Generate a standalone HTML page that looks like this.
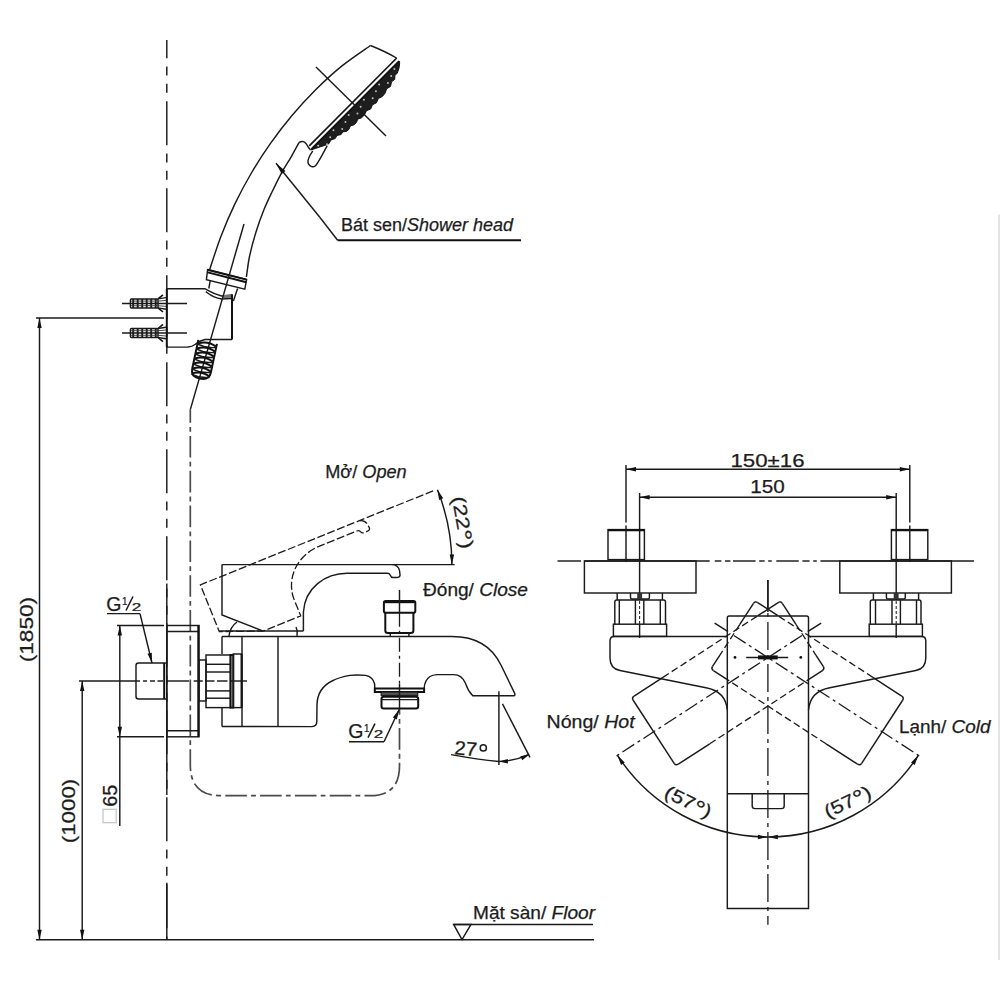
<!DOCTYPE html>
<html><head><meta charset="utf-8"><style>
html,body{margin:0;padding:0;background:#fff;overflow:hidden;width:1000px;height:1000px;}
svg{display:block;}
.l{stroke:#1a1a1a;stroke-width:1.45;fill:none;}
.l2{stroke:#111;stroke-width:2;fill:none;}
.g3{stroke:#777;stroke-width:3;fill:none;}
.t2{stroke:#1a1a1a;stroke-width:1.6;fill:none;}
.faint{stroke:#d0d0d0;stroke-width:1.2;fill:none;}
.ph{stroke:#1a1a1a;stroke-width:1.45;fill:none;stroke-dasharray:44 8.2 9 8.4 9 8.4;}
.cl{stroke:#1a1a1a;stroke-width:1.3;fill:none;stroke-dasharray:14 4 3 4;}
.cl2{stroke:#1a1a1a;stroke-width:1.3;fill:none;stroke-dasharray:28 5 4 5;}
.hose{stroke:#4a4a4a;stroke-width:1.7;fill:none;stroke-dasharray:21.6 4.2 4.8 4.2;}
.hd{stroke:#1a1a1a;stroke-width:1.3;fill:none;stroke-dasharray:7 3.5;}
.hd2{stroke:#1a1a1a;stroke-width:1.3;fill:none;stroke-dasharray:8 2.6;}
.hd3{stroke:#1a1a1a;stroke-width:1;fill:none;stroke-dasharray:3 2;}
.nz{fill:#1e1e1e;stroke:#111;stroke-width:1;}
.wst{stroke:#fafafa;stroke-width:2;fill:none;}
.rib{stroke:#1a1a1a;stroke-width:1.9;fill:none;}
.thin{stroke:#333;stroke-width:0.9;fill:none;}
.l16{stroke:#111;stroke-width:1.6;fill:none;}
.fillg{fill:#555;stroke:#111;stroke-width:1;}
.pin{stroke:#111;stroke-width:4;fill:none;}
.dot{fill:#111;}
.ah{fill:#111;stroke:none;}
.t{font-family:"Liberation Sans",sans-serif;fill:#1c1c1c;stroke:#1c1c1c;stroke-width:0.25;}
</style></head><body>
<svg width="1000" height="1000" viewBox="0 0 1000 1000">
<path d="M166.8,40 V939.7" class="ph" stroke-dashoffset="25.8"/>
<line x1="166.8" y1="288.8" x2="166.8" y2="347.1" class="l2" />
<line x1="166.8" y1="583.6" x2="166.8" y2="795" class="l" />
<line x1="166.8" y1="882.8" x2="166.8" y2="939.7" class="l" />
<line x1="36" y1="939.7" x2="594" y2="939.7" class="l" />
<line x1="36" y1="318" x2="164" y2="318" class="l" />
<line x1="39.5" y1="318" x2="39.5" y2="939.7" class="l" />
<polygon points="39.5,318 41.7,328 37.3,328" class="ah"/>
<polygon points="39.5,939.7 37.3,929.7 41.7,929.7" class="ah"/>
<line x1="79" y1="681" x2="136" y2="681" class="l" />
<line x1="82.2" y1="681" x2="82.2" y2="939.7" class="l" />
<polygon points="82.2,681 84.4,691 80,691" class="ah"/>
<polygon points="82.2,939.7 80,929.7 84.4,929.7" class="ah"/>
<line x1="117" y1="625.5" x2="164" y2="625.5" class="l" />
<line x1="117" y1="736.8" x2="164" y2="736.8" class="l" />
<line x1="119.8" y1="625.5" x2="119.8" y2="826" class="l" />
<polygon points="119.8,625.5 122,635.5 117.6,635.5" class="ah"/>
<polygon points="119.8,736.8 117.6,726.8 122,726.8" class="ah"/>
<line x1="122" y1="303.4" x2="187" y2="303.4" class="l" />
<rect x="130.4" y="298.9" width="27.6" height="9" rx="1" class="l"/>
<line x1="133.2" y1="298.9" x2="133.2" y2="307.9" class="rib" />
<line x1="137.7" y1="298.9" x2="137.7" y2="307.9" class="rib" />
<line x1="142.2" y1="298.9" x2="142.2" y2="307.9" class="rib" />
<line x1="146.7" y1="298.9" x2="146.7" y2="307.9" class="rib" />
<line x1="151.2" y1="298.9" x2="151.2" y2="307.9" class="rib" />
<line x1="155.7" y1="298.9" x2="155.7" y2="307.9" class="rib" />
<line x1="130.4" y1="301.1" x2="158" y2="301.1" class="thin" />
<line x1="130.4" y1="305.7" x2="158" y2="305.7" class="thin" />
<polyline points="158,298.9 163,294.8" class="l16"/>
<polyline points="158,307.9 163,312" class="l16"/>
<polyline points="158,298.9 166,297.6" class="l"/>
<polyline points="158,307.9 166,309.2" class="l"/>
<polyline points="158,301.1 166,300.4" class="thin"/>
<polyline points="158,305.7 166,306.4" class="thin"/>
<line x1="122" y1="333" x2="187" y2="333" class="l" />
<rect x="130.4" y="328.5" width="27.6" height="9" rx="1" class="l"/>
<line x1="133.2" y1="328.5" x2="133.2" y2="337.5" class="rib" />
<line x1="137.7" y1="328.5" x2="137.7" y2="337.5" class="rib" />
<line x1="142.2" y1="328.5" x2="142.2" y2="337.5" class="rib" />
<line x1="146.7" y1="328.5" x2="146.7" y2="337.5" class="rib" />
<line x1="151.2" y1="328.5" x2="151.2" y2="337.5" class="rib" />
<line x1="155.7" y1="328.5" x2="155.7" y2="337.5" class="rib" />
<line x1="130.4" y1="330.7" x2="158" y2="330.7" class="thin" />
<line x1="130.4" y1="335.3" x2="158" y2="335.3" class="thin" />
<polyline points="158,328.5 163,324.4" class="l16"/>
<polyline points="158,337.5 163,341.6" class="l16"/>
<polyline points="158,328.5 166,327.2" class="l"/>
<polyline points="158,337.5 166,338.8" class="l"/>
<polyline points="158,330.7 166,330" class="thin"/>
<polyline points="158,335.3 166,336" class="thin"/>
<path d="M166.8,288.8 L205.1,288.8 C208,290 212,293.5 221.6,296 L232,295" class="l" />
<path d="M205.8,291.6 C209,294 213,297.8 221.6,299 L231.5,298.5" class="l" />
<line x1="222.6" y1="296.5" x2="231.6" y2="296.5" class="g3" />
<line x1="232" y1="294.3" x2="232" y2="339.4" class="l2" />
<path d="M232,339.4 L205,339.5 C201,340.3 198,342 195,344.5 C193.5,345.8 191.5,346.8 188,347 L166.8,347.1" class="l" />
<polyline points="210.3,280.2 208.8,288.5" class="l"/>
<polyline points="237.6,288.5 233.4,301" class="l"/>
<path d="M207.6,269.7 L246.6,279.6 L244.8,289.2 L206.4,279.6 Z" class="l" />
<line x1="207.6" y1="269.7" x2="246.6" y2="279.6" class="l2" />
<line x1="207.8" y1="272.4" x2="246.3" y2="282.2" class="l2" />
<line x1="244" y1="224" x2="190.3" y2="409.6" class="l" />
<g transform="rotate(12 204 359)">
<path d="M194.5,341.5 L194.5,371 Q194.5,379 203.5,379 Q213.5,379 213.5,371 L213.5,341.5" class="l2"/>
<path d="M194.8,345.2 Q204,340.2 213.2,344.4" class="l2" />
<path d="M194.8,345.8 Q204,348.2 213.2,345.2" class="l" />
<path d="M194.8,350.3 Q204,345.3 213.2,349.5" class="l2" />
<path d="M194.8,350.9 Q204,353.3 213.2,350.3" class="l" />
<path d="M194.8,355.4 Q204,350.4 213.2,354.6" class="l2" />
<path d="M194.8,356 Q204,358.4 213.2,355.4" class="l" />
<path d="M194.8,360.5 Q204,355.5 213.2,359.7" class="l2" />
<path d="M194.8,361.1 Q204,363.5 213.2,360.5" class="l" />
<path d="M194.8,365.6 Q204,360.6 213.2,364.8" class="l2" />
<path d="M194.8,366.2 Q204,368.6 213.2,365.6" class="l" />
<path d="M194.8,370.7 Q204,365.7 213.2,369.9" class="l2" />
<path d="M194.8,371.3 Q204,373.7 213.2,370.7" class="l" />
<path d="M194.8,375.8 Q204,370.8 213.2,375" class="l2" />
<path d="M194.8,376.4 Q204,378.8 213.2,375.8" class="l" />
</g>
<path d="M370.5,45.5 C365.75,48.9 351.1,58.57 342,65.9 C332.9,73.23 324.23,81.23 315.9,89.5 C307.57,97.77 299.57,106.52 292,115.5 C284.43,124.48 277.27,133.82 270.5,143.4 C263.73,152.98 257.33,162.92 251.4,173 C245.47,183.08 239.97,193.37 234.9,203.9 C229.83,214.43 225.22,225.22 221,236.2 C216.78,247.18 211.5,264.2 209.6,269.8" class="l" />
<path d="M299,142.6 C297.7,144.97 294.1,151.77 291.2,156.8 C288.3,161.83 284.8,166.93 281.6,172.8 C278.4,178.67 274.93,185.87 272,192 C269.07,198.13 266.67,202.93 264,209.6 C261.33,216.27 258.4,224.27 256,232 C253.6,239.73 251.2,248.5 249.6,256 C248,263.5 246.93,273.5 246.4,277" class="l" />
<path d="M299,142.6 C300.5,141.5 302,141.2 303.5,141.6 C306,142.5 307,144.5 308.5,147.5 L310.4,149.8" class="l" />
<path d="M370.5,45.5 C378,48.5 388,53 396.5,58" class="l" />
<polygon points="398.98,60.97 399.62,61.6 399.55,63.94 399,68.04 397.24,73.35 394.88,75.23 394.78,79.36 391.53,81.78 390.55,86.44 386.67,88.69 385.05,93.2 382.3,96.57 378.26,98.55 376.48,102.78 372.44,104.75 370.66,108.98 366.4,110.85 364.41,114.98 361.28,117.98 357.72,119.14 356.44,122.56 354.01,124.85 350.36,125.92 348.98,129.25 346.46,131.45 342.65,131.88 341.1,134.57 337,135.43 335.16,138.54 330.93,139.97 328.95,143.65 325.99,144.93 320.69,146.71 315.39,148.49 310.58,150.06 311.53,148.82" class="nz"/>
<circle cx="394.4" cy="69.11" r="1.0" fill="#bbb"/>
<circle cx="391.17" cy="76.05" r="1.0" fill="#bbb"/>
<circle cx="387.93" cy="82.99" r="1.0" fill="#bbb"/>
<circle cx="379.16" cy="84.42" r="1.0" fill="#bbb"/>
<circle cx="375.93" cy="91.36" r="1.0" fill="#bbb"/>
<circle cx="372.69" cy="98.29" r="1.0" fill="#bbb"/>
<circle cx="363.93" cy="99.73" r="1.0" fill="#bbb"/>
<circle cx="360.69" cy="106.67" r="1.0" fill="#bbb"/>
<circle cx="357.45" cy="113.6" r="1.0" fill="#bbb"/>
<circle cx="348.69" cy="115.04" r="1.0" fill="#bbb"/>
<circle cx="345.45" cy="121.97" r="1.0" fill="#bbb"/>
<circle cx="342.21" cy="128.91" r="1.0" fill="#bbb"/>
<circle cx="333.45" cy="130.35" r="1.0" fill="#bbb"/>
<circle cx="330.21" cy="137.28" r="1.0" fill="#bbb"/>
<circle cx="326.98" cy="144.22" r="1.0" fill="#bbb"/>
<circle cx="318.21" cy="145.65" r="1.0" fill="#bbb"/>
<line x1="397.49" y1="59.91" x2="310.6" y2="147.2" class="wst" />
<line x1="396.71" y1="58" x2="309.26" y2="145.86" class="l16" />
<line x1="398.98" y1="60.97" x2="311.53" y2="148.82" class="l16" />
<path d="M312.8,151 C312.3,151.8 310.6,154.2 309.8,155.8 C309,157.4 308.2,159.2 308,160.6 C307.8,162 308,163.2 308.6,164.2 C309.2,165.2 310.5,166.3 311.6,166.6 C312.7,166.9 314.1,166.8 315.2,166 C316.3,165.2 317,163.7 318.2,161.8 C319.4,159.9 320.9,157.3 322.4,154.6 C323.9,151.9 326.4,147.1 327.2,145.6" class="l" />
<line x1="316" y1="67" x2="386" y2="136" class="l" />
<line x1="276" y1="163.2" x2="320" y2="217.5" class="l" />
<line x1="320" y1="217.5" x2="337.6" y2="240.3" class="l" />
<line x1="337.6" y1="240.3" x2="521" y2="240.3" class="l2" />
<polygon points="276,163.2 285.41,171.03 281.67,174.04" class="ah"/>
<path d="M190.3,409.6 L190.3,765 Q190.3,795.7 221,795.7 L370,795.7 Q399.5,795.7 399.5,766 L399.5,709" class="hose" stroke-dashoffset="8.4"/>
<path d="M166,663 L138.5,663 Q136,663 136,665.5 L136,696.5 Q136,699 138.5,699 L166,699" class="l" />
<line x1="164.2" y1="663" x2="164.2" y2="699" class="l2" />
<line x1="107" y1="613.6" x2="140" y2="613.6" class="l" />
<line x1="140" y1="613.6" x2="152" y2="663" class="l" />
<polygon points="152,663 147.53,653.79 151.81,652.76" class="ah"/>
<rect x="166.8" y="625.5" width="32.2" height="111.3" class="l"/>
<line x1="166.8" y1="631.5" x2="199" y2="631.5" class="l" />
<line x1="166.8" y1="730.8" x2="199" y2="730.8" class="l" />
<line x1="198.3" y1="625.5" x2="198.3" y2="736.8" class="l2" />
<line x1="136" y1="681" x2="140" y2="681" class="l" />
<line x1="143" y1="681" x2="147" y2="681" class="l" />
<line x1="150" y1="681" x2="155" y2="681" class="l" />
<line x1="157.5" y1="681" x2="163" y2="681" class="l" />
<line x1="166" y1="681" x2="189" y2="681" class="l" />
<line x1="193.7" y1="681" x2="202.8" y2="681" class="l" />
<line x1="205.4" y1="681" x2="214.5" y2="681" class="l" />
<line x1="217" y1="681" x2="227.5" y2="681" class="l" />
<line x1="230" y1="681" x2="247" y2="681" class="l" />
<rect x="199" y="660" width="7" height="41" class="l"/>
<rect x="206" y="655" width="24.5" height="52.6" class="l"/>
<line x1="206" y1="664.3" x2="230.5" y2="664.3" class="l" />
<line x1="206" y1="672" x2="230.5" y2="672" class="l" />
<line x1="206" y1="690.9" x2="230.5" y2="690.9" class="l" />
<line x1="206" y1="698.2" x2="230.5" y2="698.2" class="l" />
<rect x="230.5" y="655" width="2.8" height="52.6" class="l2"/>
<rect x="233.3" y="654" width="8.3" height="53.6" class="l"/>
<line x1="241.6" y1="654" x2="241.6" y2="707.6" class="l2" />
<line x1="222" y1="636.4" x2="222" y2="654" class="l" />
<line x1="222" y1="707.6" x2="222" y2="726.4" class="l" />
<line x1="242" y1="636.4" x2="242" y2="726.4" class="l" />
<line x1="278" y1="636.4" x2="278" y2="726.4" class="l" />
<path d="M222,726.4 L312,726.6 Q316.8,726.4 316.8,721.5 L317,704 C317.5,694 322,686 332,681 C337,678.3 343,676.6 350,675.4 C354,674.9 360,674.8 365.6,675.4 C370,676.2 373.6,679.5 374.6,684 L374.8,688.5" class="l" />
<path d="M424.1,688.5 C424.5,683 426,679 430,676.5 C432,675.2 434,674.8 437,674.6 L453.6,674.6 C459,674.6 463,677 465.6,683.6 C467,688 469,692 472.8,695.8 L512.8,695.8 Q515.6,695.8 514.7,693.4 L501.2,665.5 C494,650 480,636.4 452,636.4 L222,636.4" class="l" />
<rect x="374.8" y="688.5" width="49.3" height="3.5" class="l2"/>
<rect x="381.1" y="692" width="36.7" height="3.4" class="fillg"/>
<rect x="381.5" y="696.8" width="36.7" height="11.6" rx="2.2" class="l2"/>
<line x1="381.5" y1="699.6" x2="418.2" y2="699.6" class="l" />
<line x1="349" y1="741.7" x2="384" y2="741.7" class="l" />
<line x1="384" y1="741.7" x2="399.2" y2="709.5" class="l" />
<polygon points="399.2,709.5 396.87,719.47 392.9,717.57" class="ah"/>
<line x1="219.4" y1="631" x2="303.4" y2="631" class="l" />
<path d="M229,636 Q230,627 237,622" class="l" />
<path d="M297,636 Q298,631 296,627" class="l" />
<path d="M454.6,564.6 L391,564.6 C395.5,564.6 399,567 399.6,571 L400,574.8 C400.2,576.7 398.6,577.5 396.5,577.5 L393,577.5 C391.4,577.5 390.8,576.6 390.3,575.2 C389.8,573.9 389,573.3 387.3,573.3 L347,573.3 C325,573.3 305,588 303.4,612 L303.4,631 M222,564.6 L391,564.6 M222,564.6 L222,615 L262.8,631" class="l" />
<g transform="rotate(-22 263.3 630.3)">
<path d="M473,564.6 L391,564.6 C395.5,564.6 399,567 399.6,571 L400,574.8 C400.2,576.7 398.6,577.5 396.5,577.5 L393,577.5 C391.4,577.5 390.8,576.6 390.3,575.2 C389.8,573.9 389,573.3 387.3,573.3 L347,573.3 C325,573.3 305,588 303.4,612 L303.4,631 L262.8,631 L222,615 L222,564.6 L391,564.6" class="hd2" />
</g>
<path d="M437.43,489.82 A200.5,200.5 0 0 1 451.9,564.6" class="l" />
<polygon points="437.43,489.82 443.2,498.27 439.12,499.91" class="ah"/>
<polygon points="451.9,564.6 449.7,554.6 454.1,554.6" class="ah"/>
<rect x="383.9" y="600.9" width="31.4" height="11.8" rx="1.8" class="l2"/>
<line x1="384.5" y1="602.2" x2="414.7" y2="602.2" class="l2" />
<path d="M385.3,612.7 L385.3,630.5 Q385.3,633 388,633 L410.8,633 Q413.4,633 413.4,630.5 L413.4,612.7" class="l2" />
<line x1="390.3" y1="633" x2="390.3" y2="636" class="l" />
<line x1="408.9" y1="633" x2="408.9" y2="636" class="l" />
<line x1="399.5" y1="590" x2="399.5" y2="612.7" class="l" />
<line x1="399.5" y1="612.7" x2="399.5" y2="683.9" class="cl" />
<line x1="399.5" y1="683.9" x2="399.5" y2="709" class="l" />
<line x1="498.9" y1="691.2" x2="498.9" y2="765" class="l" />
<line x1="502.5" y1="703.9" x2="530" y2="757.4" class="l" />
<path d="M451,754.6 Q478,759.5 498.9,761.5 Q515,761 529,754.3" class="l" />
<polygon points="498.9,761.5 507.85,759.12 507.94,763.52" class="ah"/>
<polygon points="529.5,754.5 522.17,760.17 520.38,756.14" class="ah"/>
<line x1="453.6" y1="924.4" x2="593" y2="924.4" class="l" />
<polygon points="453.6,924.4 471,924.4 462,939.6" class="l"/>
<line x1="999" y1="214.5" x2="999" y2="960" class="faint" />
<text x="106.3" y="610.5" font-size="19.5" text-anchor="start" class="t" >G</text>
<text x="0" y="0" font-size="11.5" text-anchor="start" class="t" transform="translate(121.9,605.3) scale(0.85,1)">1</text>
<line x1="126" y1="610.5" x2="133" y2="596.5" class="t2" />
<text x="0" y="0" font-size="11" text-anchor="start" class="t" transform="translate(131.7,610.5) scale(1.55,1)">2</text>
<text x="348.3" y="737.6" font-size="19.5" text-anchor="start" class="t" >G</text>
<text x="0" y="0" font-size="11.5" text-anchor="start" class="t" transform="translate(363.9,732.4) scale(0.85,1)">1</text>
<line x1="368" y1="737.6" x2="375" y2="723.6" class="t2" />
<text x="0" y="0" font-size="11" text-anchor="start" class="t" transform="translate(373.7,737.6) scale(1.55,1)">2</text>
<text x="341" y="230.5" font-size="18" text-anchor="start" class="t" textLength="172" lengthAdjust="spacingAndGlyphs" >Bát sen/<tspan font-style="italic">Shower head</tspan></text>
<text x="325.2" y="478.2" font-size="18.5" text-anchor="start" class="t" textLength="81.5" lengthAdjust="spacingAndGlyphs" >Mở/ <tspan font-style="italic">Open</tspan></text>
<text x="423" y="596" font-size="18.5" text-anchor="start" class="t" textLength="105" lengthAdjust="spacingAndGlyphs" >Đóng/ <tspan font-style="italic">Close</tspan></text>
<text x="0" y="0" font-size="19.5" text-anchor="start" class="t" textLength="22.5" lengthAdjust="spacingAndGlyphs" transform="translate(454,754.2) rotate(5)">27</text>
<circle cx="483.3" cy="747.9" r="3.1" fill="none" stroke="#1c1c1c" stroke-width="1.5"/>
<text x="0" y="0" font-size="18.5" text-anchor="middle" class="t" textLength="53" lengthAdjust="spacingAndGlyphs" transform="translate(456.5,523.6) rotate(80)">(22<tspan font-size="23" dy="3">°</tspan><tspan dy="-3">)</tspan></text>
<text x="0" y="0" font-size="18.5" text-anchor="middle" class="t" textLength="65.5" lengthAdjust="spacingAndGlyphs" transform="translate(33,629.6) rotate(-90)">(1850)</text>
<text x="0" y="0" font-size="18.5" text-anchor="middle" class="t" textLength="64.5" lengthAdjust="spacingAndGlyphs" transform="translate(75.3,811) rotate(-90)">(1000)</text>
<text x="0" y="0" font-size="19.5" text-anchor="middle" class="t" textLength="22" lengthAdjust="spacingAndGlyphs" transform="translate(117,795.8) rotate(-90)">65</text>
<rect x="103" y="809.3" width="13.2" height="13.4" fill="none" stroke="#c4c4c4" stroke-width="1.2"/>
<text x="473" y="918.8" font-size="18.3" text-anchor="start" class="t" textLength="122" lengthAdjust="spacingAndGlyphs" >Mặt sàn/ <tspan font-style="italic">Floor</tspan></text>
<line x1="626" y1="465" x2="626" y2="522.5" class="l" />
<line x1="909.8" y1="465" x2="909.8" y2="522.5" class="l" />
<line x1="626" y1="469.3" x2="909.8" y2="469.3" class="l" />
<polygon points="626,469.3 636,467.1 636,471.5" class="ah"/>
<polygon points="909.8,469.3 899.8,471.5 899.8,467.1" class="ah"/>
<line x1="639.6" y1="493" x2="639.6" y2="600" class="l" />
<line x1="896.2" y1="493" x2="896.2" y2="600" class="l" />
<line x1="639.6" y1="601" x2="639.6" y2="624" class="hd3" />
<line x1="896.2" y1="601" x2="896.2" y2="624" class="hd3" />
<line x1="639.6" y1="624.2" x2="639.6" y2="638" class="l" />
<line x1="896.2" y1="624.2" x2="896.2" y2="638" class="l" />
<line x1="639.6" y1="497.2" x2="896.2" y2="497.2" class="l" />
<polygon points="639.6,497.2 649.6,495 649.6,499.4" class="ah"/>
<polygon points="896.2,497.2 886.2,499.4 886.2,495" class="ah"/>
<text x="730.5" y="466.6" font-size="19" text-anchor="start" class="t" textLength="74" lengthAdjust="spacingAndGlyphs" >150±16</text>
<text x="750.3" y="492.7" font-size="19" text-anchor="start" class="t" textLength="34.5" lengthAdjust="spacingAndGlyphs" >150</text>
<line x1="557.5" y1="561" x2="581" y2="561" class="l" />
<line x1="584.4" y1="561" x2="709.7" y2="561" class="l" />
<line x1="820.4" y1="561" x2="974" y2="561" class="l" />
<line x1="714.8" y1="561" x2="721.4" y2="561" class="l" />
<line x1="725" y1="561" x2="730.4" y2="561" class="l" />
<line x1="733" y1="561" x2="755.6" y2="561" class="l" />
<line x1="759.2" y1="561" x2="764.6" y2="561" class="l" />
<line x1="768.2" y1="561" x2="771.8" y2="561" class="l" />
<line x1="776.3" y1="561" x2="798.8" y2="561" class="l" />
<line x1="802.4" y1="561" x2="809.6" y2="561" class="l" />
<line x1="813.2" y1="561" x2="816.8" y2="561" class="l" />
<rect x="608" y="529.6" width="36.4" height="30" class="l"/>
<line x1="608" y1="530.3" x2="644.4" y2="530.3" class="l2" />
<rect x="584.4" y="561" width="111.6" height="32" class="l"/>
<line x1="617.2" y1="593" x2="617.2" y2="600" class="l" />
<line x1="662.4" y1="593" x2="662.4" y2="600" class="l" />
<path d="M630.5,593 L630.5,597.5 Q630.5,599 632,599 L648,599 Q649.4,599 649.4,597.5 L649.4,593" class="l" />
<rect x="637.2" y="593" width="4.9" height="6" fill="#333"/>
<path d="M614.8,624.2 L614.8,602 Q614.8,600 616.8,600 L663.5,600 Q665.5,600 665.5,602 L665.5,624.2" class="l" />
<line x1="619.3" y1="600" x2="619.3" y2="624.2" class="l" />
<line x1="635.4" y1="600" x2="635.4" y2="624.2" class="l" />
<line x1="643.8" y1="600" x2="643.8" y2="624.2" class="l" />
<line x1="660.3" y1="600" x2="660.3" y2="624.2" class="l" />
<rect x="613.4" y="624.2" width="53.2" height="12.2" class="l"/>
<line x1="626" y1="525.5" x2="626" y2="562" class="l" />
<rect x="891.4" y="529.6" width="36.4" height="30" class="l"/>
<line x1="891.4" y1="530.3" x2="927.8" y2="530.3" class="l2" />
<rect x="839.8" y="561" width="111.6" height="32" class="l"/>
<line x1="918.6" y1="593" x2="918.6" y2="600" class="l" />
<line x1="873.4" y1="593" x2="873.4" y2="600" class="l" />
<path d="M905.3,593 L905.3,597.5 Q905.3,599 903.8,599 L887.8,599 Q886.4,599 886.4,597.5 L886.4,593" class="l" />
<rect x="893.7" y="593" width="4.9" height="6" fill="#333"/>
<path d="M870.3,624.2 L870.3,602 Q870.3,600 872.3,600 L919,600 Q921,600 921,602 L921,624.2" class="l" />
<line x1="916.5" y1="600" x2="916.5" y2="624.2" class="l" />
<line x1="900.4" y1="600" x2="900.4" y2="624.2" class="l" />
<line x1="892" y1="600" x2="892" y2="624.2" class="l" />
<line x1="875.5" y1="600" x2="875.5" y2="624.2" class="l" />
<rect x="869.2" y="624.2" width="53.2" height="12.2" class="l"/>
<line x1="909.8" y1="525.5" x2="909.8" y2="562" class="l" />
<path d="M727.3,636.4 L614,636.4 Q610,636.4 610,641 L610,658 C610,664 612,669 620,670.5 L706,687.8 C718,690 726,696 727.3,710" class="l" />
<path d="M808.5,636.4 L921.8,636.4 Q925.8,636.4 925.8,641 L925.8,658 C925.8,664 923.8,669 915.8,670.5 L829.8,687.8 C817.8,690 809.8,696 808.5,710" class="l" />
<path d="M727.3,908.5 L727.3,618 Q727.3,616 729.3,616 L806.5,616 Q808.5,616 808.5,618 L808.5,908.5 Z" class="l" />
<line x1="727.3" y1="793.7" x2="808.5" y2="793.7" class="l" />
<path d="M752.2,793.7 L752.2,806 Q752.2,808.6 755,808.6 L781.4,808.6 Q784.2,808.6 784.2,806 L784.2,793.7" class="l" />
<line x1="767.9" y1="580" x2="767.9" y2="924.7" class="cl2" />
<line x1="767.9" y1="580" x2="767.9" y2="612" class="l" />
<line x1="746.2" y1="657.4" x2="788.2" y2="657.4" class="l" />
<line x1="758" y1="657.4" x2="777.7" y2="657.4" class="pin" />
<circle cx="735" cy="657.4" r="1.4" class="dot"/><circle cx="800.8" cy="657.4" r="1.4" class="dot"/>
<line x1="633.19" y1="700.25" x2="674.15" y2="763.31" class="l" />
<path d="M634.08,696.1 Q631.56,697.73 633.19,700.25" class="l" />
<path d="M678.3,764.2 Q675.79,765.83 674.15,763.31" class="l" />
<line x1="634.08" y1="696.1" x2="662.93" y2="677.36" class="l" />
<line x1="662.93" y1="677.36" x2="757.86" y2="615.71" class="hd" />
<line x1="757.86" y1="615.71" x2="778.16" y2="602.53" class="l" />
<path d="M778.16,602.53 Q780.68,600.89 782.31,603.41" class="l" />
<path d="M822.39,670.63 Q824.9,668.99 823.27,666.48" class="l" />
<line x1="782.31" y1="603.41" x2="795.98" y2="624.46" class="l" />
<line x1="795.98" y1="624.46" x2="815.86" y2="655.07" class="hd" />
<line x1="815.86" y1="655.07" x2="823.27" y2="666.48" class="l" />
<line x1="678.3" y1="764.2" x2="709.75" y2="743.77" class="l" />
<line x1="709.75" y1="743.77" x2="808.46" y2="679.67" class="hd" />
<line x1="808.46" y1="679.67" x2="822.39" y2="670.63" class="l" />
<line x1="801.95" y1="635.49" x2="615.26" y2="756.72" class="cl" />
<line x1="821.16" y1="623.02" x2="807.74" y2="631.73" class="l" />
<line x1="902.61" y1="700.25" x2="861.65" y2="763.31" class="l" />
<path d="M901.72,696.1 Q904.24,697.73 902.61,700.25" class="l" />
<path d="M857.5,764.2 Q860.01,765.83 861.65,763.31" class="l" />
<line x1="901.72" y1="696.1" x2="872.87" y2="677.36" class="l" />
<line x1="872.87" y1="677.36" x2="777.94" y2="615.71" class="hd" />
<line x1="777.94" y1="615.71" x2="757.64" y2="602.53" class="l" />
<path d="M757.64,602.53 Q755.12,600.89 753.49,603.41" class="l" />
<path d="M713.41,670.63 Q710.9,668.99 712.53,666.48" class="l" />
<line x1="753.49" y1="603.41" x2="739.82" y2="624.46" class="l" />
<line x1="739.82" y1="624.46" x2="719.94" y2="655.07" class="hd" />
<line x1="719.94" y1="655.07" x2="712.53" y2="666.48" class="l" />
<line x1="857.5" y1="764.2" x2="826.05" y2="743.77" class="l" />
<line x1="826.05" y1="743.77" x2="727.34" y2="679.67" class="hd" />
<line x1="727.34" y1="679.67" x2="713.41" y2="670.63" class="l" />
<line x1="733.85" y1="635.49" x2="920.54" y2="756.72" class="cl" />
<line x1="714.64" y1="623.02" x2="728.06" y2="631.73" class="l" />
<path d="M617.44,755.31 A179.4,179.4 0 0 0 767.9,837" class="l" />
<polygon points="617.44,755.31 624.73,762.5 621.04,764.89" class="ah"/>
<polygon points="767.9,837 777.9,834.8 777.9,839.2" class="ah"/>
<path d="M918.36,755.31 A179.4,179.4 0 0 1 767.9,837" class="l" />
<polygon points="918.36,755.31 914.76,764.89 911.07,762.5" class="ah"/>
<polygon points="767.9,837 757.9,839.2 757.9,834.8" class="ah"/>
<text x="0" y="0" font-size="18.5" text-anchor="middle" class="t" textLength="50" lengthAdjust="spacingAndGlyphs" transform="translate(685.5,807.5) rotate(26.4)">(57<tspan font-size="23" dy="3">°</tspan><tspan dy="-3">)</tspan></text>
<text x="0" y="0" font-size="18.5" text-anchor="middle" class="t" textLength="50" lengthAdjust="spacingAndGlyphs" transform="translate(850.3,807.5) rotate(-26.4)">(57<tspan font-size="23" dy="3">°</tspan><tspan dy="-3">)</tspan></text>
<text x="546.6" y="727.5" font-size="18.3" text-anchor="start" class="t" textLength="88" lengthAdjust="spacingAndGlyphs" >Nóng/ <tspan font-style="italic">Hot</tspan></text>
<text x="899" y="733.3" font-size="18.3" text-anchor="start" class="t" textLength="91.5" lengthAdjust="spacingAndGlyphs" >Lạnh/ <tspan font-style="italic">Cold</tspan></text>
</svg></body></html>
